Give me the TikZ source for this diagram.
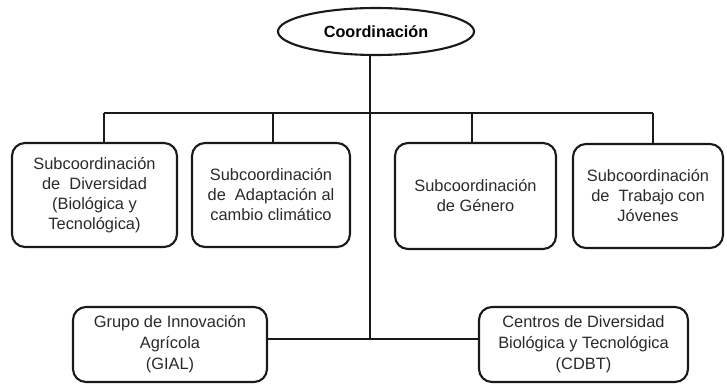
\documentclass[tikz,border=0pt]{standalone}
\usepackage{fontspec}
\setmainfont{Liberation Sans}
\usetikzlibrary{shapes.geometric}
\definecolor{txt}{HTML}{2A2A2A}
\definecolor{ln}{HTML}{1A1A1A}
\begin{document}
\begin{tikzpicture}[x=1pt,y=-1pt,
  box/.style={draw=ln, line width=2.1pt, rounded corners=13pt, align=center,
    text=txt, inner sep=0pt, font=\fontsize{16.4}{20}\selectfont},
  lowbox/.style={box, font=\fontsize{16.4}{21}\selectfont},
  oval/.style={draw=ln, line width=2.1pt, ellipse, inner sep=0pt, text=black,
    font=\fontsize{16.2}{20}\selectfont\bfseries},
  conn/.style={draw=ln, line width=2.1pt}]
\fill[white] (0,0) rectangle (727,383);
\useasboundingbox (0,0) rectangle (727,383);

\node[oval, minimum width=196pt, minimum height=47pt] (co) at (376,31.5) {Coordinación};

\node[box, minimum width=165pt, minimum height=104pt] (b1) at (94.5,195)
  {Subcoordinación\\de\ \ Diversidad\\(Biológica y\\Tecnológica)};
\node[box, minimum width=158pt, minimum height=104pt] (b2) at (271,195)
  {Subcoordinación\\de\ \ Adaptación al\\cambio climático};
\node[box, minimum width=161pt, minimum height=106pt] (b3) at (475.5,196)
  {Subcoordinación\\de Género};
\node[box, minimum width=150pt, minimum height=104pt] (b4) at (648,196)
  {Subcoordinación\\de\ \ Trabajo con\\Jóvenes};

\node[lowbox, minimum width=194pt, minimum height=75pt] (g) at (170,344.5)
  {Grupo de Innovación\\Agrícola\\(GIAL)};
\node[lowbox, minimum width=209pt, minimum height=75pt] (c) at (583.5,344.5)
  {Centros de Diversidad\\Biológica y Tecnológica\\(CDBT)};

\coordinate (tk) at (370,339);
\coordinate (j1) at (104,113);
\coordinate (j2) at (273,113);
\coordinate (j3) at (472,113);
\coordinate (j4) at (653,113);

\draw[conn] (tk |- co.south) -- (tk);
\draw[conn] (j1) -- (j4);
\draw[conn] (j1) -- (j1 |- b1.north);
\draw[conn] (j2) -- (j2 |- b2.north);
\draw[conn] (j3) -- (j3 |- b3.north);
\draw[conn] (j4) -- (j4 |- b4.north);
\draw[conn] (g.east |- tk) -- (c.west |- tk);
\end{tikzpicture}
\end{document}
